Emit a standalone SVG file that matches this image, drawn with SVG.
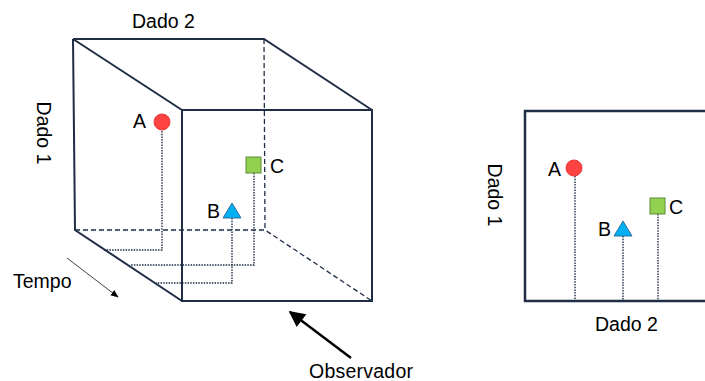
<svg xmlns="http://www.w3.org/2000/svg" width="705" height="381" viewBox="0 0 705 381">
<defs>
<style>
.t{font-family:"Liberation Sans",Arial,sans-serif;font-size:19.5px;fill:#000}
.edge{fill:none;stroke:#1F2D45;stroke-width:2;stroke-linejoin:miter}
.dash{fill:none;stroke:#1F2D45;stroke-width:1.3;stroke-dasharray:5,3}
.dot{fill:none;stroke:#1F2D45;stroke-width:1.4;stroke-dasharray:1.5,1.2}
.ca{fill:#FF4343;stroke:#E83A3A;stroke-width:1}
.cb{fill:#00B0F0;stroke:#2F6FA0;stroke-width:1}
.cc{fill:#92D050;stroke:#5E8C34;stroke-width:1}
</style>
<marker id="ah1" viewBox="0 0 10 10" refX="9" refY="5" markerWidth="8" markerHeight="8" orient="auto" markerUnits="userSpaceOnUse"><path d="M0,1 L10,5 L0,9 Z" fill="#000"/></marker>
<marker id="ah2" viewBox="0 0 10 10" refX="9" refY="5" markerWidth="18" markerHeight="16" orient="auto" markerUnits="userSpaceOnUse"><path d="M0,0 L10,5 L0,10 Z" fill="#000"/></marker>
</defs>
<g id="cube">
<path class="dash" d="M264,39 L265,230 M75,230 L265,230 L372,301"/>
<path class="edge" d="M73,39 L264,39 L372,110 M73,39 L182,110 M73,39 L75,230 L182,301 M182,110 L372,110 L372,301 L182,301 Z"/>
</g>
<g id="connectors">
<path class="dot" d="M162,131 L162,250 L103,250"/>
<path class="dot" d="M254,173 L254,265 L130,265"/>
<path class="dot" d="M232,218 L232,283 L156,283"/>
<path class="dot" d="M575,176 L575,301"/>
<path class="dot" d="M623,236 L623,301"/>
<path class="dot" d="M658,214 L658,301"/>
<line x1="67" y1="258" x2="118" y2="297" stroke="#444" stroke-width="1" marker-end="url(#ah1)"/>
<line x1="351" y1="358" x2="290" y2="312" stroke="#000" stroke-width="2.5" marker-end="url(#ah2)"/>
</g>
<g id="pointA"><circle class="ca" cx="162" cy="122" r="8"/><text class="t" x="133" y="128">A</text></g>
<g id="pointB"><path class="cb" d="M232,203 L241,218 L223,218 Z"/><text class="t" x="207" y="218">B</text></g>
<g id="pointC"><rect class="cc" x="246" y="157" width="15" height="16"/><text class="t" x="270" y="173">C</text></g>
<g id="labels">
<text class="t" x="132" y="28">Dado 2</text>
<text class="t" transform="translate(44,133) rotate(90)" text-anchor="middle" y="7">Dado 1</text>
<text class="t" x="13" y="288">Tempo</text>
<text class="t" x="309" y="378" textLength="104">Observador</text>
</g>
<g id="panel">
<rect x="525" y="111" width="200" height="190" fill="none" stroke="#1F2D45" stroke-width="2.5"/>
</g>
<g id="pointA2"><circle class="ca" cx="574" cy="168" r="8"/><text class="t" x="548" y="176">A</text></g>
<g id="pointB2"><path class="cb" d="M623,221 L632,236 L614,236 Z"/><text class="t" x="598" y="236">B</text></g>
<g id="pointC2"><rect class="cc" x="650" y="198" width="15" height="16"/><text class="t" x="669" y="214">C</text></g>
<g id="labels2">
<text class="t" x="595" y="331">Dado 2</text>
<text class="t" transform="translate(495,195) rotate(90)" text-anchor="middle" y="7">Dado 1</text>
</g>
</svg>
